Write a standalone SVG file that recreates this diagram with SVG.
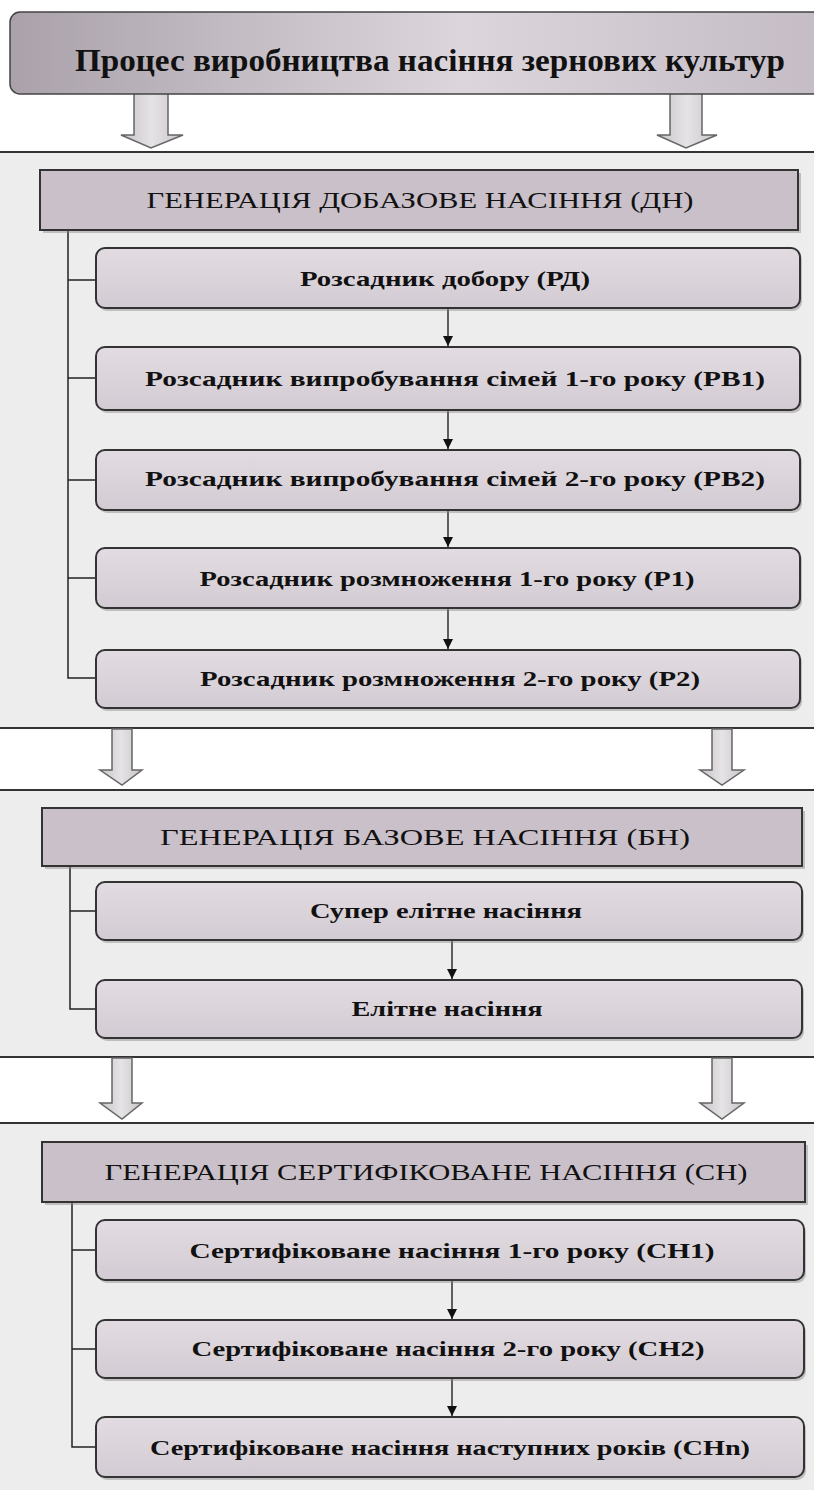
<svg xmlns="http://www.w3.org/2000/svg" width="814" height="1490" viewBox="0 0 814 1490">
  <defs>
    <linearGradient id="gTop" x1="0" y1="0" x2="1" y2="0">
      <stop offset="0" stop-color="#aaa1aa"/>
      <stop offset="0.55" stop-color="#dcd6dc"/>
      <stop offset="1" stop-color="#c4bbc4"/>
    </linearGradient>
    <linearGradient id="gBox" x1="0" y1="0" x2="0" y2="1">
      <stop offset="0" stop-color="#e2dce2"/>
      <stop offset="1" stop-color="#d3cbd3"/>
    </linearGradient>
    <linearGradient id="gArrow" x1="0" y1="0" x2="1" y2="0">
      <stop offset="0" stop-color="#c8c4c8"/>
      <stop offset="0.5" stop-color="#e6e3e6"/>
      <stop offset="1" stop-color="#c8c4c8"/>
    </linearGradient>
    <marker id="tri" viewBox="0 0 10 10" refX="10" refY="5" markerWidth="10" markerHeight="10" markerUnits="userSpaceOnUse" orient="auto">
      <path d="M0,0 L10,5 L0,10 Z" fill="#111"/>
    </marker>
  </defs>
  <style>
    .band { fill: #eeeded; }
    .sep { stroke: #333; stroke-width: 2; }
    .top { fill: url(#gTop); stroke: #444; stroke-width: 1.5; }
    .hdr { fill: #c9c0c9; stroke: #333; stroke-width: 2; }
    .box { fill: url(#gBox); stroke: #333; stroke-width: 2; }
    .shadow { fill: #8a848a; opacity: 0.45; }
    .barrow { fill: url(#gArrow); stroke: #666; stroke-width: 1.5; }
    .tree { fill: none; stroke: #222; stroke-width: 1.5; }
    .flow { stroke: #111; stroke-width: 1.3; marker-end: url(#tri); }
    text { font-family: "Liberation Serif", "Times New Roman", serif; fill: #111; text-anchor: middle; }
    .tt { font-size: 31px; font-weight: bold; }
    .ht { font-size: 23px; }
    .bt { font-size: 21px; font-weight: bold; }
  </style>

  <rect width="814" height="1490" fill="#ffffff"/>

  <!-- background bands -->
  <rect class="band" x="0" y="152" width="814" height="576"/>
  <rect class="band" x="0" y="790" width="814" height="267"/>
  <rect class="band" x="0" y="1123" width="814" height="367"/>
  <line class="sep" x1="0" y1="152" x2="814" y2="152"/>
  <line class="sep" x1="0" y1="728" x2="814" y2="728"/>
  <line class="sep" x1="0" y1="790" x2="814" y2="790"/>
  <line class="sep" x1="0" y1="1057" x2="814" y2="1057"/>
  <line class="sep" x1="0" y1="1123" x2="814" y2="1123"/>

  <!-- connectors -->
  <g id="connectors">
    <!-- block arrows -->
    <path class="barrow" d="M134,93 H168 V135 H183 L151,148 L121,135 H134 Z"/>
    <path class="barrow" d="M670,93 H702 V135 H717 L686,148 L657,135 H670 Z"/>
    <path class="barrow" d="M112,729 H132 V770 H142 L122,785 L100,770 H112 Z"/>
    <path class="barrow" d="M712,729 H732 V770 H744 L722,785 L700,770 H712 Z"/>
    <path class="barrow" d="M112,1058 H132 V1103 H142 L122,1119 L100,1103 H112 Z"/>
    <path class="barrow" d="M712,1058 H732 V1103 H744 L722,1119 L700,1103 H712 Z"/>
    <!-- tree lines -->
    <path class="tree" d="M68,230 V678 H96 M68,280 H96 M68,378 H96 M68,480 H96 M68,578 H96"/>
    <path class="tree" d="M70,866 V1009 H96 M70,911 H96"/>
    <path class="tree" d="M72,1202 V1447 H96 M72,1250 H96 M72,1349 H96"/>
    <!-- flow arrows -->
    <line class="flow" x1="448" y1="308" x2="448" y2="346"/>
    <line class="flow" x1="448" y1="410" x2="448" y2="449"/>
    <line class="flow" x1="448" y1="510" x2="448" y2="547"/>
    <line class="flow" x1="448" y1="608" x2="448" y2="649"/>
    <line class="flow" x1="452" y1="940" x2="452" y2="979"/>
    <line class="flow" x1="452" y1="1280" x2="452" y2="1319"/>
    <line class="flow" x1="452" y1="1378" x2="452" y2="1416"/>
  </g>

  <g id="n-top">
    <rect class="top" x="10" y="12" width="820" height="82" rx="10"/>
    <text class="tt" x="430" y="71" textLength="710" lengthAdjust="spacingAndGlyphs">Процес виробництва насіння зернових культур</text>
  </g>

  <g id="n-dn">
    <rect class="shadow" x="43" y="173" width="758" height="60"/>
    <rect class="hdr" x="40" y="170" width="758" height="60"/>
    <text class="ht" x="420" y="208" textLength="547" lengthAdjust="spacingAndGlyphs">ГЕНЕРАЦІЯ ДОБАЗОВЕ НАСІННЯ (ДН)</text>
  </g>
  <g id="n-rd">
    <rect class="shadow" x="98" y="251" width="704" height="60" rx="9"/>
    <rect class="box" x="96" y="248" width="704" height="60" rx="9"/>
    <text class="bt" x="445" y="286" textLength="290" lengthAdjust="spacingAndGlyphs">Розсадник добору (РД)</text>
  </g>
  <g id="n-rv1">
    <rect class="shadow" x="98" y="350" width="704" height="63" rx="9"/>
    <rect class="box" x="96" y="347" width="704" height="63" rx="9"/>
    <text class="bt" x="455" y="386" textLength="620" lengthAdjust="spacingAndGlyphs">Розсадник випробування сімей 1-го року (РВ1)</text>
  </g>
  <g id="n-rv2">
    <rect class="shadow" x="98" y="453" width="704" height="60" rx="9"/>
    <rect class="box" x="96" y="450" width="704" height="60" rx="9"/>
    <text class="bt" x="455" y="486" textLength="620" lengthAdjust="spacingAndGlyphs">Розсадник випробування сімей 2-го року (РВ2)</text>
  </g>
  <g id="n-p1">
    <rect class="shadow" x="98" y="551" width="704" height="60" rx="9"/>
    <rect class="box" x="96" y="548" width="704" height="60" rx="9"/>
    <text class="bt" x="447" y="586" textLength="495" lengthAdjust="spacingAndGlyphs">Розсадник розмноження 1-го року (Р1)</text>
  </g>
  <g id="n-p2">
    <rect class="shadow" x="98" y="653" width="704" height="58" rx="9"/>
    <rect class="box" x="96" y="650" width="704" height="58" rx="9"/>
    <text class="bt" x="450" y="686" textLength="500" lengthAdjust="spacingAndGlyphs">Розсадник розмноження 2-го року (Р2)</text>
  </g>

  <g id="n-bn">
    <rect class="shadow" x="45" y="811" width="760" height="58"/>
    <rect class="hdr" x="42" y="808" width="760" height="58"/>
    <text class="ht" x="425" y="845" textLength="530" lengthAdjust="spacingAndGlyphs">ГЕНЕРАЦІЯ БАЗОВЕ НАСІННЯ (БН)</text>
  </g>
  <g id="n-super">
    <rect class="shadow" x="98" y="885" width="706" height="58" rx="9"/>
    <rect class="box" x="96" y="882" width="706" height="58" rx="9"/>
    <text class="bt" x="446" y="918" textLength="272" lengthAdjust="spacingAndGlyphs">Супер елітне насіння</text>
  </g>
  <g id="n-elite">
    <rect class="shadow" x="98" y="983" width="706" height="58" rx="9"/>
    <rect class="box" x="96" y="980" width="706" height="58" rx="9"/>
    <text class="bt" x="447" y="1016" textLength="191" lengthAdjust="spacingAndGlyphs">Елітне насіння</text>
  </g>

  <g id="n-sn">
    <rect class="shadow" x="45" y="1145" width="763" height="60"/>
    <rect class="hdr" x="42" y="1142" width="763" height="60"/>
    <text class="ht" x="426" y="1180" textLength="643" lengthAdjust="spacingAndGlyphs">ГЕНЕРАЦІЯ СЕРТИФІКОВАНЕ НАСІННЯ (СН)</text>
  </g>
  <g id="n-sn1">
    <rect class="shadow" x="98" y="1223" width="708" height="60" rx="9"/>
    <rect class="box" x="96" y="1220" width="708" height="60" rx="9"/>
    <text class="bt" x="452" y="1258" textLength="525" lengthAdjust="spacingAndGlyphs">Сертифіковане насіння 1-го року (СН1)</text>
  </g>
  <g id="n-sn2">
    <rect class="shadow" x="98" y="1323" width="708" height="58" rx="9"/>
    <rect class="box" x="96" y="1320" width="708" height="58" rx="9"/>
    <text class="bt" x="448" y="1356" textLength="513" lengthAdjust="spacingAndGlyphs">Сертифіковане насіння 2-го року (СН2)</text>
  </g>
  <g id="n-snn">
    <rect class="shadow" x="98" y="1420" width="708" height="60" rx="9"/>
    <rect class="box" x="96" y="1417" width="708" height="60" rx="9"/>
    <text class="bt" x="450" y="1455" textLength="600" lengthAdjust="spacingAndGlyphs">Сертифіковане насіння наступних років (СНn)</text>
  </g>
</svg>
